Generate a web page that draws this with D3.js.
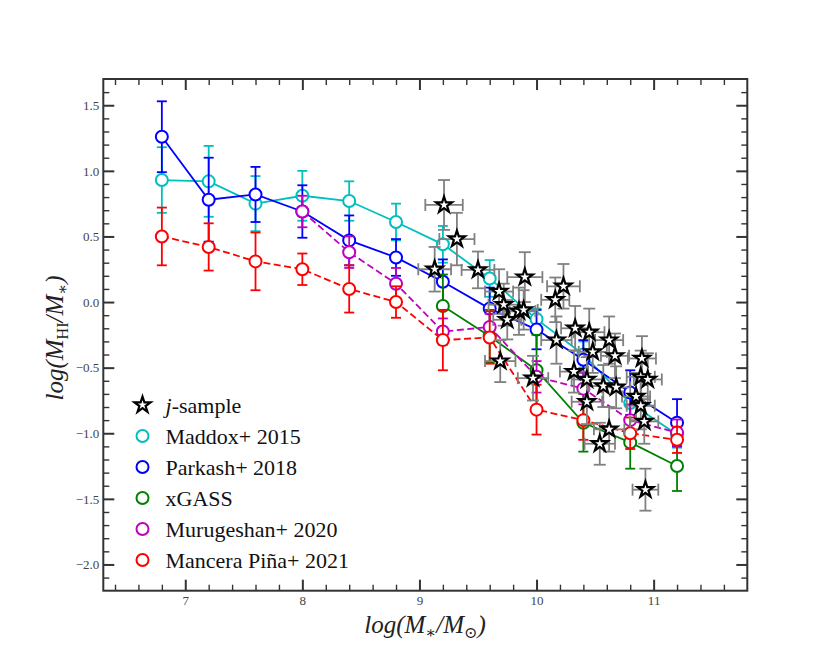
<!DOCTYPE html>
<html>
<head>
<meta charset="utf-8">
<script src="https://cdn.jsdelivr.net/npm/d3@7"></script>
<style>
  body { margin: 0; background: #fff; }
  svg text { font-family: "Liberation Serif", "DejaVu Serif", serif; }
</style>
</head>
<body>
<svg id="chart" width="830" height="664"></svg>
<script>
/* -------- data -------- */

const binX = [6.8, 7.2, 7.6, 8.0, 8.4, 8.8, 9.2, 9.6, 10.0, 10.4, 10.8, 11.2];

const maddoxY   = [0.93, 0.92, 0.75, 0.81, 0.77, 0.61, 0.44, 0.18, -0.13, -0.40, -0.77, -1.01];
const maddoxErr = [0.25, 0.27, 0.21, 0.19, 0.15, 0.14, 0.14, 0.14, 0.08, 0.10, 0.10, 0.10];

const parkashY   = [1.26, 0.78, 0.82, 0.69, 0.47, 0.34, 0.155, -0.05, -0.21, -0.44, -0.69, -0.92];
const parkashErr = [0.27, 0.32, 0.21, 0.20, 0.19, 0.14, 0.17, 0.16, 0.15, 0.15, 0.17, 0.18];

const xgassX   = [9.2, 9.6, 10.0, 10.4, 10.8, 11.2];
const xgassY   = [-0.03, -0.26, -0.52, -0.92, -1.07, -1.25];
const xgassErr = [0.24, 0.20, 0.27, 0.22, 0.20, 0.19];

const muruX   = [8.0, 8.4, 8.8, 9.2, 9.6, 10.0, 10.4, 10.8, 11.2];
const muruY   = [0.69, 0.38, 0.14, -0.225, -0.19, -0.57, -0.66, -0.90, -0.995];
const muruErr = [0.12, 0.12, 0.12, 0.10, 0.10, 0.12, 0.12, 0.12, 0.10];

const manceraY   = [0.50, 0.42, 0.31, 0.25, 0.10, 0.0, -0.29, -0.27, -0.82, -0.90, -1.00, -1.05];
const manceraErr = [0.22, 0.18, 0.22, 0.12, 0.18, 0.12, 0.23, 0.20, 0.19, 0.15, 0.12, 0.10];

const starX = [9.21, 9.32, 9.13, 9.50, 9.68, 9.90, 9.72, 9.75, 9.85, 9.89, 10.23, 10.16,
               10.17, 10.33, 10.45, 10.48, 9.69, 10.62, 10.67, 10.90, 10.32, 10.43, 10.57,
               10.68, 10.89, 10.95, 10.85, 10.89, 10.92, 10.43, 10.62, 10.54, 10.93, 9.97];
const starY = [0.74, 0.48, 0.25, 0.245, 0.08, 0.19, -0.02, -0.135, -0.07, -0.06, 0.12, 0.017,
               -0.29, -0.20, -0.23, -0.38, -0.45, -0.29, -0.41, -0.43, -0.53, -0.59, -0.64,
               -0.65, -0.57, -0.59, -0.72, -0.79, -0.91, -0.76, -0.97, -1.08, -1.43, -0.58];
const starXErr = [0.16, 0.15, 0.14, 0.14, 0.12, 0.15, 0.13, 0.12, 0.14, 0.12, 0.14, 0.12,
                  0.13, 0.12, 0.13, 0.12, 0.13, 0.12, 0.12, 0.12, 0.12, 0.13, 0.12,
                  0.12, 0.12, 0.12, 0.12, 0.12, 0.12, 0.13, 0.13, 0.13, 0.11, 0.13];
const starYErr = [0.19, 0.20, 0.17, 0.14, 0.17, 0.19, 0.16, 0.15, 0.18, 0.15, 0.17, 0.17,
                  0.18, 0.17, 0.18, 0.16, 0.16, 0.18, 0.17, 0.17, 0.16, 0.17, 0.16,
                  0.16, 0.20, 0.20, 0.18, 0.18, 0.17, 0.17, 0.17, 0.16, 0.16, 0.17];

const xMajor = [7, 8, 9, 10, 11];
const yMajor = [1.5, 1.0, 0.5, 0.0, -0.5, -1.0, -1.5, -2.0];

const legendLabels = ["j-sample", "Maddox+ 2015", "Parkash+ 2018", "xGASS", "Murugeshan+ 2020", "Mancera Piña+ 2021"];

/* -------- series table -------- */

const SERIES = [
  { name: legendLabels[1], color: "#00bfbf", dash: null,  x: binX,   y: maddoxY,  err: maddoxErr },
  { name: legendLabels[2], color: "#0000ff", dash: null,  x: binX,   y: parkashY, err: parkashErr },
  { name: legendLabels[3], color: "#008000", dash: null,  x: xgassX, y: xgassY,   err: xgassErr },
  { name: legendLabels[4], color: "#bf00bf", dash: "7,3.5", x: muruX, y: muruY,   err: muruErr },
  { name: legendLabels[5], color: "#ff0000", dash: "7,3.5", x: binX,  y: manceraY, err: manceraErr }
];

/* -------- layout -------- */

const W = 830, H = 664;
const M = { left: 103.3, right: 747.3, top: 79, bottom: 590.7 };

const svg = d3.select("#chart");

const x = d3.scaleLinear().domain([6.3, 11.8]).range([M.left, M.right]);
const y = d3.scaleLinear().domain([-2.2, 1.7]).range([M.bottom, M.top]);

const xMinor = d3.range(6.4, 11.8, 0.2).filter(v => !xMajor.some(m => Math.abs(m - v) < 1e-6));
const yMinor = d3.range(-2.1, 1.7, 0.1).filter(v => !yMajor.some(m => Math.abs(m - v) < 1e-6));

const fmt = d => d3.format(".1f")(d).replace("-", "\u2212");

function styleAxis(g, w) {
  g.select(".domain").remove();
  g.selectAll(".tick line").attr("stroke", "#333").attr("stroke-width", w);
  g.selectAll(".tick text").attr("fill", "#444").attr("font-size", 13);
}

// bottom / left with labels
svg.append("g").attr("transform", `translate(0,${M.bottom})`)
  .call(d3.axisBottom(x).tickValues(xMajor).tickSize(-11).tickSizeOuter(0).tickPadding(5).tickFormat(d3.format("d")))
  .call(g => styleAxis(g, 2));
svg.append("g").attr("transform", `translate(0,${M.bottom})`)
  .call(d3.axisBottom(x).tickValues(xMinor).tickSize(-6).tickSizeOuter(0).tickFormat(""))
  .call(g => styleAxis(g, 1.4));
svg.append("g").attr("transform", `translate(${M.left},0)`)
  .call(d3.axisLeft(y).tickValues(yMajor).tickSize(-11).tickSizeOuter(0).tickPadding(4).tickFormat(fmt))
  .call(g => styleAxis(g, 2));
svg.append("g").attr("transform", `translate(${M.left},0)`)
  .call(d3.axisLeft(y).tickValues(yMinor).tickSize(-6).tickSizeOuter(0).tickFormat(""))
  .call(g => styleAxis(g, 1.4));

// top / right, ticks only
svg.append("g").attr("transform", `translate(0,${M.top})`)
  .call(d3.axisTop(x).tickValues(xMajor).tickSize(-11).tickSizeOuter(0).tickFormat(""))
  .call(g => styleAxis(g, 2));
svg.append("g").attr("transform", `translate(0,${M.top})`)
  .call(d3.axisTop(x).tickValues(xMinor).tickSize(-6).tickSizeOuter(0).tickFormat(""))
  .call(g => styleAxis(g, 1.4));
svg.append("g").attr("transform", `translate(${M.right},0)`)
  .call(d3.axisRight(y).tickValues(yMajor).tickSize(-11).tickSizeOuter(0).tickFormat(""))
  .call(g => styleAxis(g, 2));
svg.append("g").attr("transform", `translate(${M.right},0)`)
  .call(d3.axisRight(y).tickValues(yMinor).tickSize(-6).tickSizeOuter(0).tickFormat(""))
  .call(g => styleAxis(g, 1.4));

/* -------- series -------- */

const plot = svg.append("g");
const capW = 5;

SERIES.forEach(s => {
  const pts = s.x.map((xv, i) => ({ x: xv, y: s.y[i], e: s.err[i] }));
  const g = plot.append("g");

  const eb = g.selectAll("g.eb").data(pts).enter().append("g")
    .attr("stroke", s.color).attr("stroke-width", 1.8);
  eb.append("line")
    .attr("x1", d => x(d.x)).attr("x2", d => x(d.x))
    .attr("y1", d => y(d.y - d.e)).attr("y2", d => y(d.y + d.e));
  eb.append("line")
    .attr("x1", d => x(d.x) - capW).attr("x2", d => x(d.x) + capW)
    .attr("y1", d => y(d.y + d.e)).attr("y2", d => y(d.y + d.e));
  eb.append("line")
    .attr("x1", d => x(d.x) - capW).attr("x2", d => x(d.x) + capW)
    .attr("y1", d => y(d.y - d.e)).attr("y2", d => y(d.y - d.e));

  g.append("path").datum(pts)
    .attr("fill", "none")
    .attr("stroke", s.color)
    .attr("stroke-width", 1.8)
    .attr("stroke-dasharray", s.dash)
    .attr("d", d3.line().x(d => x(d.x)).y(d => y(d.y)));

  g.selectAll("circle").data(pts).enter().append("circle")
    .attr("cx", d => x(d.x)).attr("cy", d => y(d.y)).attr("r", 6)
    .attr("fill", "#fff").attr("stroke", s.color).attr("stroke-width", 2);
});

/* -------- j-sample stars -------- */

const stars = starX.map((xv, i) => ({ x: xv, y: starY[i], ex: starXErr[i], ey: starYErr[i] }));
const sg = plot.append("g");
const starCap = 6;

const seb = sg.selectAll("g.seb").data(stars).enter().append("g")
  .attr("stroke", "#808080").attr("stroke-width", 1.8);
seb.append("line")
  .attr("x1", d => x(d.x)).attr("x2", d => x(d.x))
  .attr("y1", d => y(d.y - d.ey)).attr("y2", d => y(d.y + d.ey));
seb.append("line")
  .attr("x1", d => x(d.x - d.ex)).attr("x2", d => x(d.x + d.ex))
  .attr("y1", d => y(d.y)).attr("y2", d => y(d.y));
[1, -1].forEach(k => {
  seb.append("line")
    .attr("x1", d => x(d.x) - starCap).attr("x2", d => x(d.x) + starCap)
    .attr("y1", d => y(d.y + k * d.ey)).attr("y2", d => y(d.y + k * d.ey));
  seb.append("line")
    .attr("x1", d => x(d.x + k * d.ex)).attr("x2", d => x(d.x + k * d.ex))
    .attr("y1", d => y(d.y) - starCap).attr("y2", d => y(d.y) + starCap);
});

const starPath = d3.symbol().type(d3.symbolStar).size(80);
sg.selectAll("path.star").data(stars).enter().append("path")
  .attr("class", "star")
  .attr("d", starPath)
  .attr("transform", d => `translate(${x(d.x)},${y(d.y)})`)
  .attr("fill", "#fff").attr("stroke", "#000").attr("stroke-width", 2.2)
  .attr("stroke-linejoin", "miter");

/* -------- frame -------- */

svg.append("rect")
  .attr("x", M.left).attr("y", M.top)
  .attr("width", M.right - M.left).attr("height", M.bottom - M.top)
  .attr("fill", "none").attr("stroke", "#333").attr("stroke-width", 2);

/* -------- legend -------- */

const leg = svg.append("g").attr("transform", "translate(142.5,405)");
const rowH = 31;
legendLabels.forEach((lab, i) => {
  const row = leg.append("g").attr("transform", `translate(0,${i * rowH})`);
  if (i === 0) {
    row.append("path").attr("d", starPath)
      .attr("fill", "#fff").attr("stroke", "#000").attr("stroke-width", 2.2);
  } else {
    row.append("circle").attr("r", 6)
      .attr("fill", "#fff").attr("stroke", SERIES[i - 1].color).attr("stroke-width", 2);
  }
  const t = row.append("text").attr("x", 23).attr("y", 7.5).attr("font-size", 22).attr("fill", "#111");
  if (i === 0) {
    t.append("tspan").attr("font-style", "italic").text("j");
    t.append("tspan").text(lab.slice(1));
  } else {
    t.text(lab);
  }
});

/* -------- axis labels -------- */

const xl = svg.append("text")
  .attr("x", 425).attr("y", 633).attr("text-anchor", "middle")
  .attr("font-size", 25).attr("font-style", "italic").attr("fill", "#222");
xl.append("tspan").text("log(M");
xl.append("tspan").attr("dy", 5).attr("font-size", 16).attr("font-style", "normal").text("\u2217");
xl.append("tspan").attr("dy", -5).text("/M");
xl.append("tspan").attr("dy", 5).attr("font-size", 16).attr("font-style", "normal").text("\u2299");
xl.append("tspan").attr("dy", -5).text(")");

const yl = svg.append("text")
  .attr("transform", "translate(63,338) rotate(-90)").attr("text-anchor", "middle")
  .attr("font-size", 25).attr("font-style", "italic").attr("fill", "#222");
yl.append("tspan").text("log(M");
yl.append("tspan").attr("dy", 5).attr("font-size", 16).attr("font-style", "normal").text("HI");
yl.append("tspan").attr("dy", -5).text("/M");
yl.append("tspan").attr("dy", 5).attr("font-size", 16).attr("font-style", "normal").text("\u2217");
yl.append("tspan").attr("dy", -5).text(")");
</script>
</body>
</html>
